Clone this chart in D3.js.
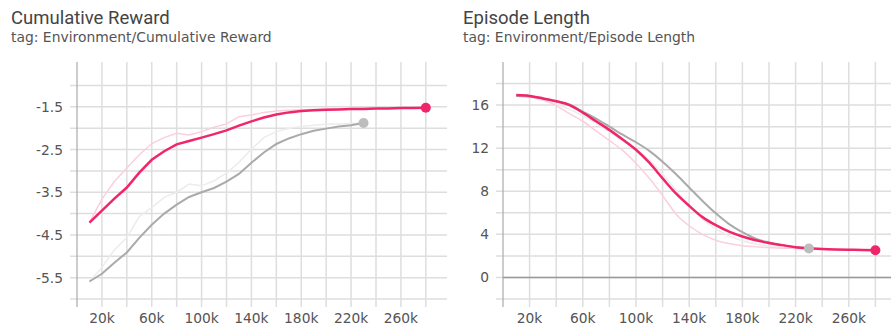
<!DOCTYPE html>
<html>
<head>
<meta charset="utf-8">
<script src="https://cdn.jsdelivr.net/npm/d3@7"></script>
<style>
  html, body { margin: 0; padding: 0; background: #fff; }
  svg { display: block; font-family: Roboto, "Noto Sans", sans-serif; }
  .small { font-family: "DejaVu Sans", sans-serif; }
</style>
</head>
<body>
<svg id="chart" width="891" height="329"></svg>
<script>
// Training steps (thousands) at which summaries were written
const stepsRunA = [10,20,30,40,50,60,70,80,90,100,110,120,130,140,150,160,170,180,190,200,210,220,230,240,250,260,270,280];
const stepsRunB = [10,20,30,40,50,60,70,80,90,100,110,120,130,140,150,160,170,180,190,200,210,220,230];

// Environment/Cumulative Reward
const rewardRawA = [-4.21,-3.66,-3.25,-2.93,-2.62,-2.36,-2.22,-2.12,-2.16,-2.08,-1.98,-1.90,-1.73,-1.69,-1.63,-1.60,-1.58,-1.57,-1.56,-1.55,-1.55,-1.54,-1.53,-1.53,-1.52,-1.52,-1.52,-1.52];
const rewardSmoothA = [-4.21,-3.93,-3.65,-3.39,-3.04,-2.74,-2.54,-2.38,-2.30,-2.22,-2.14,-2.05,-1.94,-1.84,-1.75,-1.68,-1.63,-1.60,-1.58,-1.57,-1.56,-1.55,-1.55,-1.54,-1.54,-1.53,-1.53,-1.52];
const rewardRawB = [-5.59,-5.26,-4.85,-4.56,-4.07,-3.86,-3.62,-3.50,-3.31,-3.35,-3.23,-3.05,-2.80,-2.49,-2.22,-2.08,-2.00,-1.96,-1.93,-1.91,-1.90,-1.89,-1.88];
const rewardSmoothB = [-5.59,-5.41,-5.15,-4.91,-4.57,-4.26,-4.00,-3.79,-3.61,-3.50,-3.40,-3.25,-3.07,-2.81,-2.57,-2.37,-2.24,-2.14,-2.06,-2.01,-1.96,-1.93,-1.88];

// Environment/Episode Length
const lengthRawA = [16.93,16.8,16.5,15.95,15.2,14.5,13.6,12.7,11.8,10.6,9.2,7.6,5.9,4.8,4.0,3.45,3.15,2.95,2.85,2.78,2.72,2.68,2.63,2.6,2.57,2.55,2.53,2.52];
const lengthSmoothA = [16.93,16.85,16.62,16.35,16.0,15.3,14.5,13.7,12.8,11.85,10.65,9.2,7.8,6.65,5.6,4.85,4.25,3.8,3.45,3.2,3.0,2.8,2.7,2.65,2.6,2.57,2.55,2.53];
const lengthRawB = [16.85,16.7,16.45,16.1,15.6,15.0,14.3,13.5,12.7,11.9,10.9,9.6,8.1,6.6,5.4,4.5,3.85,3.4,3.1,2.9,2.8,2.72,2.69];
const lengthSmoothB = [16.85,16.8,16.6,16.35,16.05,15.4,14.75,14.0,13.25,12.55,11.75,10.75,9.6,8.35,7.1,5.95,4.95,4.2,3.6,3.25,3.0,2.8,2.69];

// Axis ticks
const xGridTicks = d3.range(0, 300, 20);
const xLabelTicks = [20,60,100,140,180,220,260];
const rewardGridTicks = [-6,-5.5,-5,-4.5,-4,-3.5,-3,-2.5,-2,-1.5,-1];
const rewardLabelTicks = [-5.5,-4.5,-3.5,-2.5,-1.5];
const lengthGridTicks = [-2,0,2,4,6,8,10,12,14,16,18];
const lengthLabelTicks = [0,4,8,12,16];

const colorA = "#f0266b";
const colorB = "#aaaaaa";

const svg = d3.select("#chart");

function zip(xs, ys) { return xs.map((x, i) => [x, ys[i]]); }

function panel(cfg) {
  const g = svg.append("g");
  // Titles
  g.append("text").attr("x", cfg.titleX).attr("y", 24)
    .attr("font-size", 18.5).attr("fill", "#444").text(cfg.title);
  g.append("text").attr("class", "small").attr("x", cfg.titleX).attr("y", 42)
    .attr("font-size", 13.9).attr("fill", "#555").text(cfg.tag);

  const x = d3.scaleLinear().domain(cfg.xDomain).range([cfg.left, cfg.right]);
  const y = d3.scaleLinear().domain(cfg.yDomain).range([cfg.bottom, cfg.top]);

  // Grid
  const grid = g.append("g").attr("stroke", "#dedede").attr("stroke-width", 1.5);
  grid.selectAll("line.h").data(cfg.yGrid).join("line")
    .attr("x1", cfg.left - 7).attr("x2", cfg.right)
    .attr("y1", d => y(d)).attr("y2", d => y(d));
  grid.selectAll("line.v").data(xGridTicks.slice(1)).join("line")
    .attr("x1", d => x(d)).attr("x2", d => x(d))
    .attr("y1", cfg.top).attr("y2", cfg.bottom + 8);

  // Axis lines
  g.append("line").attr("x1", cfg.left).attr("x2", cfg.left)
    .attr("y1", cfg.top).attr("y2", cfg.bottom + 8)
    .attr("stroke", "#aaa").attr("stroke-width", 1.2);
  if (cfg.zeroLine) {
    g.append("line").attr("x1", cfg.left).attr("x2", cfg.right)
      .attr("y1", y(0)).attr("y2", y(0))
      .attr("stroke", "#999").attr("stroke-width", 1.4);
  }

  // Tick labels
  g.append("g").attr("class", "small").selectAll("text").data(cfg.yLabels).join("text")
    .attr("x", cfg.left - 14).attr("y", d => y(d)).attr("dy", "0.36em")
    .attr("text-anchor", "end").attr("font-size", 13.8).attr("fill", "#555")
    .text(cfg.yFormat);
  g.append("g").attr("class", "small").selectAll("text").data(xLabelTicks).join("text")
    .attr("x", d => x(d)).attr("y", 323)
    .attr("text-anchor", "middle").attr("font-size", 13.8).attr("fill", "#555")
    .text(d => d + "k");

  const line = d3.line().x(d => x(d[0])).y(d => y(d[1])).curve(cfg.curve);
  const s = cfg.series;
  g.append("path").datum(zip(stepsRunB, s.rawB)).attr("d", line)
    .attr("fill", "none").attr("stroke", "#ececec").attr("stroke-width", 1.5);
  g.append("path").datum(zip(stepsRunA, s.rawA)).attr("d", line)
    .attr("fill", "none").attr("stroke", "#fbcfdd").attr("stroke-width", 1.5);
  g.append("path").datum(zip(stepsRunB, s.smoothB)).attr("d", line)
    .attr("fill", "none").attr("stroke", colorB).attr("stroke-width", 2);
  g.append("path").datum(zip(stepsRunA, s.smoothA)).attr("d", line)
    .attr("fill", "none").attr("stroke", colorA).attr("stroke-width", 2.5);

  // End-of-run markers
  const lastB = stepsRunB.length - 1, lastA = stepsRunA.length - 1;
  g.append("circle").attr("cx", x(stepsRunB[lastB])).attr("cy", y(s.smoothB[lastB]))
    .attr("r", 5).attr("fill", "#bdbdbd");
  g.append("circle").attr("cx", x(stepsRunA[lastA])).attr("cy", y(s.smoothA[lastA]))
    .attr("r", 5).attr("fill", colorA);
}

panel({
  title: "Cumulative Reward", tag: "tag: Environment/Cumulative Reward", titleX: 11,
  left: 77, right: 447, top: 62, bottom: 299,
  xDomain: [0, 297], yDomain: [-6, -0.45],
  yGrid: rewardGridTicks, yLabels: rewardLabelTicks, yFormat: d => d.toFixed(1),
  zeroLine: false, curve: d3.curveLinear,
  series: { rawA: rewardRawA, smoothA: rewardSmoothA, rawB: rewardRawB, smoothB: rewardSmoothB }
});

panel({
  title: "Episode Length", tag: "tag: Environment/Episode Length", titleX: 463,
  left: 503, right: 898, top: 62, bottom: 299,
  xDomain: [0, 297], yDomain: [-2, 20],
  yGrid: lengthGridTicks, yLabels: lengthLabelTicks, yFormat: d => String(d),
  zeroLine: true, curve: d3.curveMonotoneX,
  series: { rawA: lengthRawA, smoothA: lengthSmoothA, rawB: lengthRawB, smoothB: lengthSmoothB }
});
</script>
</body>
</html>
